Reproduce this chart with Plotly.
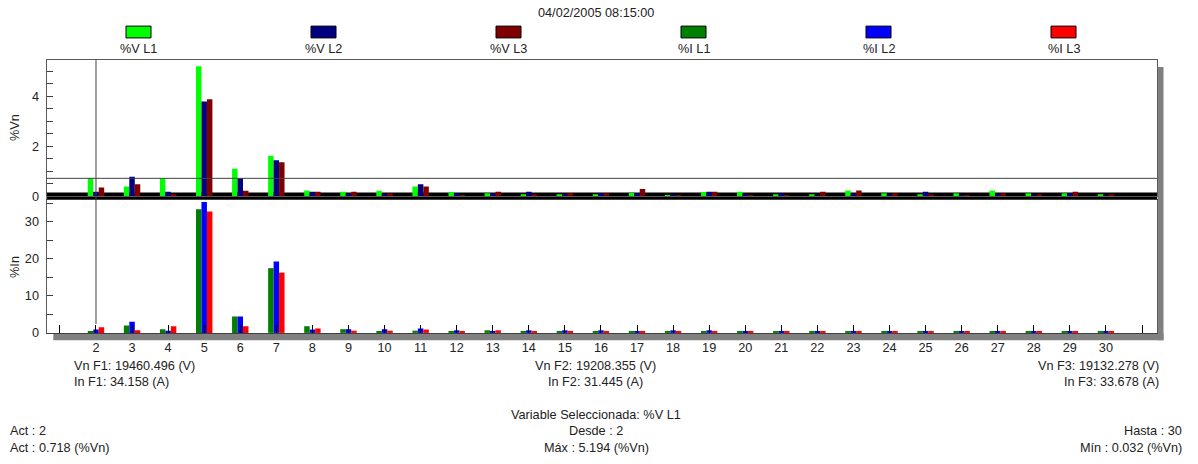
import plotly.graph_objects as go

W, H = 1198, 464

# harmonic orders with data, and the full set of positions on the axis
harmonics = list(range(2, 31))
axis_positions = list(range(1, 32))
axis_labels = [""] + [str(h) for h in range(2, 31)] + [""]

# voltage harmonics, % of fundamental (orders 2..30)
v_l1 = [0.718, 0.39, 0.71, 5.194, 1.10, 1.62, 0.23, 0.18, 0.22, 0.39,
        0.16, 0.12, 0.08, 0.08, 0.08, 0.13, 0.032, 0.17, 0.18, 0.08,
        0.08, 0.23, 0.12, 0.08, 0.12, 0.23, 0.12, 0.12, 0.08]
v_l2 = [0.18, 0.78, 0.18, 3.79, 0.72, 1.44, 0.18, 0.10, 0.09, 0.48,
        0.12, 0.12, 0.18, 0.08, 0.12, 0.12, 0.07, 0.18, 0.08, 0.12,
        0.04, 0.10, 0.04, 0.18, 0.04, 0.08, 0.04, 0.12, 0.04]
v_l3 = [0.35, 0.48, 0.09, 3.88, 0.22, 1.36, 0.18, 0.18, 0.12, 0.39,
        0.04, 0.18, 0.08, 0.13, 0.12, 0.29, 0.04, 0.18, 0.04, 0.04,
        0.18, 0.23, 0.12, 0.08, 0.04, 0.12, 0.08, 0.18, 0.08]

# current harmonics, % of fundamental (orders 2..30)
i_l1 = [0.44, 2.0, 1.0, 33.4, 4.4, 17.5, 1.8, 1.0, 0.44, 0.6,
        0.44, 0.7, 0.44, 0.44, 0.35, 0.35, 0.35, 0.35, 0.35, 0.35,
        0.35, 0.35, 0.35, 0.35, 0.35, 0.35, 0.35, 0.35, 0.35]
i_l2 = [0.9, 3.0, 0.6, 35.4, 4.4, 19.3, 0.9, 1.0, 1.0, 1.2,
        0.7, 0.35, 0.7, 0.7, 0.7, 0.35, 0.7, 0.7, 0.4, 0.4,
        0.4, 0.4, 0.4, 0.4, 0.4, 0.4, 0.4, 0.4, 0.4]
i_l3 = [1.5, 0.7, 1.8, 32.8, 1.8, 16.3, 1.2, 0.6, 0.6, 0.9,
        0.44, 0.7, 0.44, 0.44, 0.4, 0.4, 0.4, 0.4, 0.4, 0.4,
        0.4, 0.4, 0.4, 0.4, 0.4, 0.4, 0.4, 0.4, 0.4]

voltage_names = ["%V L1", "%V L2", "%V L3"]
current_names = ["%I L1", "%I L2", "%I L3"]
voltage_colors = ["#00ff00", "#000080", "#800000"]
current_colors = ["#008000", "#0000ff", "#ff0000"]

timestamp = "04/02/2005 08:15:00"
act_harmonic = 2
act_value = 0.718

info_left = ["Vn F1: 19460.496 (V)", "In F1: 34.158 (A)"]
info_mid = ["Vn F2: 19208.355 (V)", "In F2: 31.445 (A)"]
info_right = ["Vn F3: 19132.278 (V)", "In F3: 33.678 (A)"]
status_mid = ["Variable Seleccionada: %V L1", "Desde : 2", "Máx : 5.194 (%Vn)"]
status_left = ["Act : 2", "Act : 0.718 (%Vn)"]
status_right = ["Hasta : 30", "Mín : 0.032 (%Vn)"]

FONT = "Liberation Sans, Arial, sans-serif"
FSIZE = 12.7
TXT = "#222222"
FRAME = "#5a5a5a"


def px(x):
    return x / W


def py(y):
    return 1 - y / H


LEFT, RIGHT = 46.5, 1157.0
X_RANGE = [0.628, 31.416]
V_TOP, V_ZERO = 61.0, 199.3
I_TOP, I_ZERO = 203.0, 338.0
V_RANGE = [0, 5.445]
I_RANGE = [0, 35.93]

fig = go.Figure()

for name, vals, col in zip(voltage_names, [v_l1, v_l2, v_l3], voltage_colors):
    fig.add_trace(go.Bar(x=harmonics, y=vals, name=name, marker_color=col,
                         marker_line_width=0, xaxis="x", yaxis="y",
                         showlegend=False))
for name, vals, col in zip(current_names, [i_l1, i_l2, i_l3], current_colors):
    fig.add_trace(go.Bar(x=harmonics, y=vals, name=name, marker_color=col,
                         marker_line_width=0, xaxis="x2", yaxis="y2",
                         showlegend=False))

tick_font = dict(family=FONT, size=FSIZE, color=TXT)

v_ticks = [i * 0.5 for i in range(11)]
v_text = [str(int(t)) if t in (0, 2, 4) else "" for t in v_ticks]
i_ticks = list(range(0, 36, 5))
i_text = [str(t) if t % 10 == 0 else "" for t in i_ticks]

fig.update_layout(
    width=W, height=H,
    margin=dict(l=0, r=0, t=0, b=0),
    paper_bgcolor="white", plot_bgcolor="white",
    barmode="group", bargap=0.545, bargroupgap=0,
    xaxis=dict(domain=[px(LEFT), px(RIGHT)], range=X_RANGE, anchor="y",
               showticklabels=False, ticks="", showgrid=False, zeroline=False,
               showline=True, mirror=True, linecolor=FRAME, linewidth=1),
    yaxis=dict(domain=[py(V_ZERO), py(V_TOP)], range=V_RANGE, anchor="x",
               tickmode="array", tickvals=v_ticks, ticktext=v_text,
               ticks="inside", ticklen=6, tickcolor="#404040",
               tickfont=tick_font, ticklabelstandoff=4,
               showgrid=False, zeroline=False,
               showline=True, mirror=True, linecolor=FRAME, linewidth=1),
    yaxis3=dict(overlaying="y", range=V_RANGE, anchor="x", side="left",
                tickmode="array", tickvals=[0, 2, 4], ticks="outside",
                ticklen=6, tickcolor="#404040", showticklabels=False,
                showgrid=False, zeroline=False, showline=False),
    xaxis2=dict(domain=[px(LEFT), px(RIGHT)], range=X_RANGE, anchor="y2",
                matches="x", tickmode="array", tickvals=axis_positions,
                ticktext=axis_labels, ticks="inside", ticklen=8,
                tickcolor="black", tickfont=tick_font, ticklabelstandoff=3,
                showgrid=False, zeroline=False,
                showline=True, mirror=True, linecolor="#404040", linewidth=1),
    yaxis2=dict(domain=[py(I_ZERO), py(I_TOP)], range=I_RANGE, anchor="x2",
                tickmode="array", tickvals=i_ticks, ticktext=i_text,
                ticks="inside", ticklen=6, tickcolor="#404040",
                tickfont=tick_font, ticklabelstandoff=4,
                showgrid=False, zeroline=False,
                showline=True, mirror=True, linecolor=FRAME, linewidth=1),
    yaxis4=dict(overlaying="y2", range=I_RANGE, anchor="x2", side="left",
                tickmode="array", tickvals=[0, 10, 20, 30], ticks="outside",
                ticklen=6, tickcolor="#404040", showticklabels=False,
                showgrid=False, zeroline=False, showline=False),
)

shapes = [
    # thick baseline separating the two panels
    dict(type="rect", xref="paper", yref="paper", layer="below",
         x0=px(LEFT), x1=px(RIGHT), y0=py(202.3), y1=py(195.5),
         fillcolor="black", line=dict(width=0)),
    # drop shadow of the chart frame
    dict(type="rect", xref="paper", yref="paper", layer="below",
         x0=px(RIGHT + 0.5), x1=px(1163.5), y0=py(345.5), y1=py(68),
         fillcolor="#808080", line=dict(width=0)),
    dict(type="rect", xref="paper", yref="paper", layer="below",
         x0=px(53.3), x1=px(1163.5), y0=py(345.5), y1=py(338.8),
         fillcolor="#808080", line=dict(width=0)),
    # cursor on the selected harmonic
    dict(type="line", xref="x", yref="paper",
         x0=act_harmonic, x1=act_harmonic, y0=py(329), y1=py(V_TOP),
         line=dict(color="#404040", width=1)),
    dict(type="line", xref="paper", yref="y",
         x0=px(LEFT), x1=px(RIGHT), y0=act_value, y1=act_value,
         line=dict(color="#404040", width=1)),
]

annotations = []


def label(text, x, y, anchor="center"):
    annotations.append(dict(text=text, x=px(x), y=py(y), xref="paper",
                            yref="paper", xanchor=anchor, yanchor="middle",
                            showarrow=False,
                            font=dict(family=FONT, size=FSIZE, color=TXT)))


label(timestamp, 595.5, 13.5)

# legend: colour box above each series name
legend_names = voltage_names + current_names
legend_colors = voltage_colors + current_colors
for k, (name, col) in enumerate(zip(legend_names, legend_colors)):
    cx = 138.5 + 185 * k
    shapes.append(dict(type="rect", xref="paper", yref="paper",
                       x0=px(cx - 12.5), x1=px(cx + 12.5),
                       y0=py(38.5), y1=py(26.5), fillcolor=col,
                       line=dict(color="black", width=1)))
    label(name, cx, 50)

# axis titles
for text, yc in (("%Vn", 130), ("%In", 271)):
    annotations.append(dict(text=text, x=px(15), y=py(yc), xref="paper",
                            yref="paper", xanchor="center", yanchor="middle",
                            textangle=-90, showarrow=False,
                            font=dict(family=FONT, size=FSIZE, color=TXT)))

for k, t in enumerate(info_left):
    label(t, 71.7, 371.7 + 16.6 * k, "left")
for k, t in enumerate(info_mid):
    label(t, 595, 371.7 + 16.6 * k, "center")
for k, t in enumerate(info_right):
    label(t, 1161, 371.7 + 16.6 * k, "right")

for k, t in enumerate(status_mid):
    label(t, 596, 421 + 16.9 * k, "center")
for k, t in enumerate(status_left):
    label(t, 8.3, 437.6 + 17 * k, "left")
for k, t in enumerate(status_right):
    label(t, 1184, 437.6 + 17 * k, "right")

fig.update_layout(shapes=shapes, annotations=annotations)

fig.write_html("out.html")
